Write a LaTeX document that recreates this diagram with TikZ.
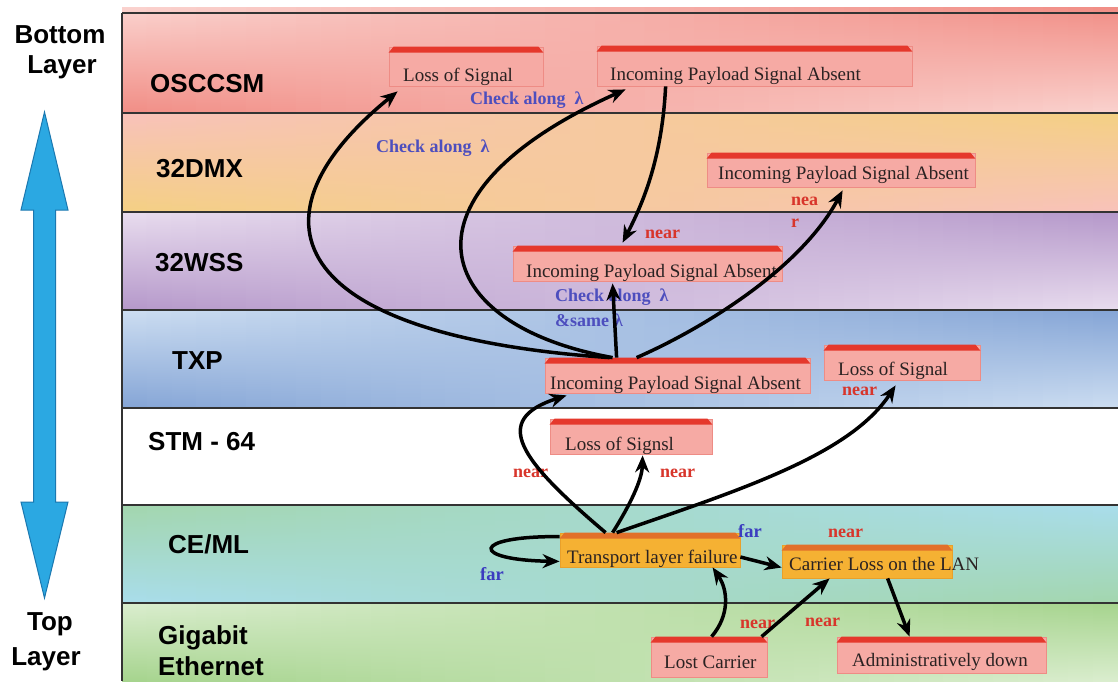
\documentclass[tikz,border=0pt]{standalone}
\usepackage{fontspec}
\setmainfont{Liberation Serif}
\setsansfont{Liberation Sans}
\usetikzlibrary{arrows.meta,fit}
\definecolor{oscA}{HTML}{FAD2CE}
\definecolor{oscB}{HTML}{F18E86}
\definecolor{dmxA}{HTML}{F8C2BA}
\definecolor{dmxB}{HTML}{F4D084}
\definecolor{wssA}{HTML}{E8DCEE}
\definecolor{wssB}{HTML}{B598CA}
\definecolor{txpA}{HTML}{CCDDF1}
\definecolor{txpB}{HTML}{85A5D6}
\definecolor{ceA}{HTML}{A3D6AE}
\definecolor{ceB}{HTML}{A9DDEB}
\definecolor{geA}{HTML}{DAEDCE}
\definecolor{geB}{HTML}{A6D48E}
\definecolor{boxpink}{HTML}{F6AAA4}
\definecolor{boxedge}{HTML}{EE8C85}
\definecolor{boxtop}{HTML}{E5382C}
\definecolor{boxorange}{HTML}{F5B133}
\definecolor{boxoedge}{HTML}{E9A02A}
\definecolor{boxotop}{HTML}{E2702A}
\definecolor{textdark}{HTML}{2A2222}
\definecolor{labblue}{HTML}{4D4EBE}
\definecolor{farblue}{HTML}{3B3CC0}
\definecolor{labred}{HTML}{D8352B}
\definecolor{arrowblue}{HTML}{2BA8E2}
\definecolor{arrowblueD}{HTML}{1B78B0}
\definecolor{bandline}{HTML}{333333}
\newcommand\mkband[6]{%
  \foreach \i in {0,...,39}{%
    \pgfmathtruncatemacro\p{round(100*\i/39)}%
    \pgfmathsetmacro\xa{122+\i*24.9}%
    \pgfmathsetmacro\xb{\xa+25.6}%
    \shade[top color=#4!\p!#3, bottom color=#6!\p!#5] (\xa,#1) rectangle (\xb,#2);
  }}
\newcommand\boxat[7]{%
  \node[#2, fit={(#3,#4) (#5,#6)}] (#1) {};
  \fill[#7] ([yshift=-6pt]#1.north west) -- ([xshift=5pt]#1.north west) -- ([xshift=-5pt]#1.north east) -- ([yshift=-6pt]#1.north east) -- cycle;
}
\tikzset{
  pbox/.style={fill=boxpink, draw=boxedge, line width=0.8pt, inner sep=0pt},
  obox/.style={fill=boxorange, draw=boxoedge, line width=0.8pt, inner sep=0pt},
  btext/.style={font=\fontsize{19}{22}\selectfont, text=textdark, inner sep=0pt, anchor=base west},
  bluelab/.style={font=\bfseries\fontsize{18}{20}\selectfont, text=labblue, inner sep=0pt, anchor=west},
  farlab/.style={font=\bfseries\fontsize{18.5}{20}\selectfont, text=farblue, inner sep=0pt, anchor=west},
  redlab/.style={font=\bfseries\fontsize{18}{20}\selectfont, text=labred, inner sep=0pt, anchor=west},
  bandlab/.style={font=\sffamily\bfseries\fontsize{26}{30}\selectfont, text=black, inner sep=0pt, anchor=base west},
  sidelab/.style={font=\sffamily\bfseries\fontsize{26}{30}\selectfont, text=black, inner sep=0pt, anchor=base},
  sep/.style={draw=bandline, line width=2pt},
  arr/.style={line width=3.5pt, black, -{Stealth[length=17pt,width=14pt]}},
}
\begin{document}
\begin{tikzpicture}[x=1pt,y=-1pt]
\useasboundingbox (0,0) rectangle (1118,681);
\clip (0,0) rectangle (1118,681);
\fill[white] (0,0) rectangle (1118,681);
% bands
\mkband{7}{113}{oscA}{oscB}{oscB}{oscA}
\mkband{113}{212}{dmxA}{dmxB}{dmxB}{dmxA}
\mkband{212}{310}{wssA}{wssB}{wssB}{wssA}
\mkband{310}{408}{txpA}{txpB}{txpB}{txpA}
\fill[white] (122,408) rectangle (1118,505);
\mkband{505}{603}{ceA}{ceB}{ceB}{ceA}
\mkband{603}{681}{geA}{geB}{geB}{geA}
\foreach \yy in {13,113,212,310,408,505,603}{\draw[sep] (122,\yy) -- (1118,\yy);}
\draw[sep] (122,13) -- (122,681);
% band labels
\node[bandlab] (lOSC) at (150,92) {OSCCSM};
\node[bandlab] (lDMX) at (156,177) {32DMX};
\node[bandlab] (lWSS) at (155,271) {32WSS};
\node[bandlab] (lTXP) at (172,369) {TXP};
\node[bandlab] (lSTM) at (148,450) {STM - 64};
\node[bandlab] (lCE) at (168,553) {CE/ML};
\node[bandlab] (lGE1) at (158,644) {Gigabit};
\node[bandlab] (lGE2) at (158,675) {Ethernet};
\node[sidelab] (bot1) at (60,43) {Bottom};
\node[sidelab] (bot2) at (62,73) {Layer};
\node[sidelab] (top1) at (50,630) {Top};
\node[sidelab] (top2) at (46,665) {Layer};
% blue double arrow
\filldraw[fill=arrowblue, draw=arrowblueD, line width=1pt] (44.5,112) -- (68,210) -- (55.5,210) -- (55.5,502) -- (68,502) -- (44.5,598) -- (21,502) -- (33.5,502) -- (33.5,210) -- (21,210) -- cycle;
% boxes
\boxat{b1}{pbox}{389}{47}{543}{86}{boxtop}
\boxat{b2}{pbox}{597}{46}{912}{86}{boxtop}
\boxat{b3}{pbox}{707}{153}{975}{187}{boxtop}
\boxat{b4}{pbox}{513}{246}{782}{281}{boxtop}
\boxat{b5}{pbox}{545}{358}{810}{393}{boxtop}
\boxat{b6}{pbox}{824}{345}{980}{380}{boxtop}
\boxat{b7}{pbox}{550}{419}{712}{454}{boxtop}
\boxat{b8}{obox}{560}{533}{740}{567}{boxotop}
\boxat{b9}{obox}{782}{545}{952}{578}{boxotop}
\boxat{b10}{pbox}{651}{637}{767}{677}{boxtop}
\boxat{b11}{pbox}{837}{637}{1046}{673}{boxtop}
% box texts
\node[btext] (t1) at (403,81) {Loss of Signal};
\node[btext] (t2) at (610,80) {Incoming Payload Signal Absent};
\node[btext] (t3) at (718,179) {Incoming Payload Signal Absent};
\node[btext] (t4) at (526,277) {Incoming Payload Signal Absent};
\node[btext] (t5) at (550,389) {Incoming Payload Signal Absent};
\node[btext] (t6) at (838,375) {Loss of Signal};
\node[btext] (t7) at (565,450) {Loss of Signsl};
\node[btext] (t8) at (567,563) {Transport layer failure};
\node[btext] (t9) at (789,570) {Carrier Loss on the LAN};
\node[btext] (t10) at (664,668) {Lost Carrier};
\node[btext] (t11) at (852,666) {Administratively down};
% labels
\node[bluelab] (c1) at (470,100) {Check along\hspace{9pt}λ};
\node[bluelab] (c2) at (376,148) {Check along\hspace{9pt}λ};
\node[bluelab] (c3) at (555,297) {Check along\hspace{9pt}λ};
\node[bluelab] (c4) at (555,320) {\&same\hspace{5pt}λ};
\node[redlab] (n1) at (645,234) {near};
\node[redlab] (n2a) at (791,201) {nea};
\node[redlab] (n2b) at (791,223) {r};
\node[redlab] (n3) at (842,391) {near};
\node[redlab] (n4) at (513,473) {near};
\node[redlab] (n5) at (660,473) {near};
\node[redlab] (n6) at (828,533) {near};
\node[redlab] (n7) at (740,624) {near};
\node[redlab] (n8) at (805,622) {near};
\node[farlab] (f1) at (738,531) {far};
\node[farlab] (f2) at (480,574) {far};
% connectors
\draw[arr] ([xshift=65pt]b5.north west) .. controls (280,335) and (245,215) .. ([xshift=9pt,yshift=-5pt]b1.south west);
\draw[arr] ([xshift=68pt]b5.north west) .. controls (430,325) and (390,195) .. ([xshift=29pt,yshift=-3pt]b2.south west);
\draw[arr] ([xshift=69pt]b2.south west) .. controls (662,160) and (642,205) .. ([xshift=110pt,yshift=3pt]b4.north west);
\draw[arr] ([xshift=72pt]b5.north west) -- ([xshift=100pt,yshift=-2pt]b4.south west);
\draw[arr] ([xshift=92pt]b5.north west) .. controls (700,330) and (800,270) .. ([xshift=136pt,yshift=-3pt]b3.south west);
\draw[arr] ([xshift=46pt]b8.north west) .. controls (520,460) and (490,420) .. ([xshift=22pt,yshift=-2pt]b5.south west);
\draw[arr] ([xshift=53pt]b8.north west) .. controls (630,505) and (642,480) .. ([xshift=93pt,yshift=-1pt]b7.south west);
\draw[arr] ([xshift=57pt]b8.north west) .. controls (740,490) and (850,455) .. ([xshift=72pt,yshift=-5pt]b6.south west);
\draw[arr] ([yshift=-4pt]b8.north west) .. controls (470,536) and (470,560) .. ([yshift=6pt]b8.south west);
\draw[arr] ([yshift=-7pt]b8.east) -- ([yshift=-6pt]b9.west);
\draw[arr] ([xshift=61pt]b10.north west) .. controls (730,615) and (728,590) .. ([xshift=153pt]b8.south west);
\draw[arr] ([xshift=111pt]b10.north west) -- ([xshift=48pt]b9.south west);
\draw[arr] ([xshift=106pt]b9.south west) -- ([xshift=73pt]b11.north west);
\end{tikzpicture}
\end{document}
